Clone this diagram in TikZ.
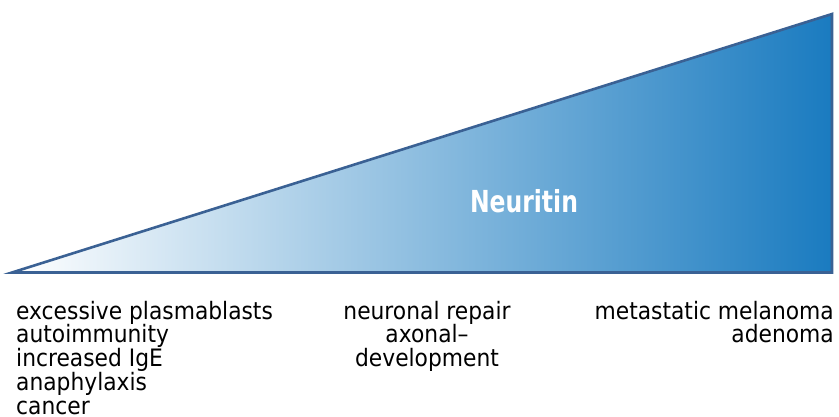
\documentclass[tikz,border=0pt]{standalone}
\usepackage{fontspec}
\usepackage{graphicx}
\setmainfont{DejaVu Sans}
\definecolor{rampblue}{HTML}{1A7BC0}
\definecolor{rampedge}{HTML}{3A6194}
% lettering is drawn slightly tall
\newcommand\tallbox[2]{\scalebox{1}[#1]{#2}}
\newcommand\labelfont{\fontsize{21.8}{21.8}\selectfont}
% rows keep a fixed pitch whatever their glyphs
\newcommand\lrow[1]{\smash{#1}}
\begin{document}
\begin{tikzpicture}[x=1pt,y=-1pt,
  label text/.style={inner sep=0pt, text=black}]
\useasboundingbox (0,0) rectangle (839,417);
% graded wedge
\coordinate (tipL) at (12,272.5);
\coordinate (baseR) at (832,272.5);
\coordinate (topR) at (832,14);
\shade[left color=white, right color=rampblue] (tipL) -- (baseR) -- (topR) -- cycle;
\draw[rampedge, line width=2.6pt, line join=miter] (tipL) -- (baseR) -- (topR) -- cycle;
\node[text=white, inner sep=0pt, anchor=base] (title) at (524,213)
  {\tallbox{1.29}{\fontsize{23.5}{28}\bfseries Neuritin}};
% effects along the scale
\node[label text, anchor=base west] (low) at (16,319)
  {\tallbox{1.1}{\labelfont\begin{tabular}[t]{@{}l@{}}\lrow{excessive plasmablasts}\\\lrow{autoimmunity}\\\lrow{increased IgE}\\\lrow{anaphylaxis}\\\lrow{cancer}\end{tabular}}};
\node[label text, anchor=base] (mid) at (427,319)
  {\tallbox{1.1}{\labelfont\begin{tabular}[t]{@{}c@{}}\lrow{neuronal repair}\\\lrow{axonal–}\\\lrow{development}\end{tabular}}};
\node[label text, anchor=base east] (high) at (834,319)
  {\tallbox{1.1}{\labelfont\begin{tabular}[t]{@{}r@{}}\lrow{metastatic melanoma}\\\lrow{adenoma}\end{tabular}}};
\end{tikzpicture}
\end{document}
